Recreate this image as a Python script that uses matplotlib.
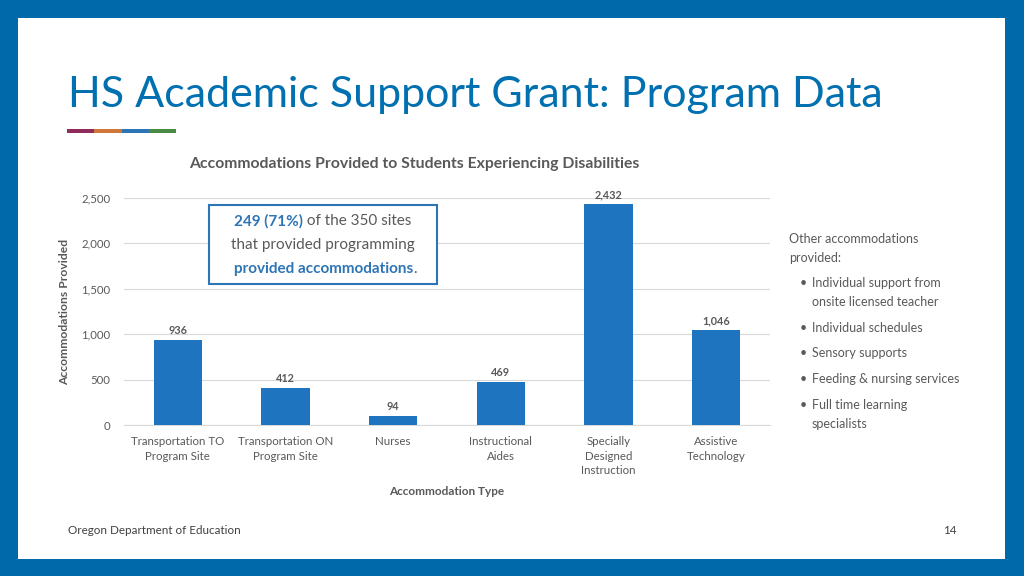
import matplotlib.pyplot as plt
from matplotlib.patches import Rectangle

categories = ['Transportation TO\nProgram Site', 'Transportation ON\nProgram Site', 'Nurses',
              'Instructional\nAides', 'Specially\nDesigned\nInstruction', 'Assistive\nTechnology']
values = [936, 412, 94, 469, 2432, 1046]
yticks = [0, 500, 1000, 1500, 2000, 2500]
other_items = ['Individual support from\nonsite licensed teacher', 'Individual schedules',
               'Sensory supports', 'Feeding & nursing services', 'Full time learning\nspecialists']

plt.rcParams['font.family'] = ['Lato', 'DejaVu Sans']

blue = '#0069AA'
gray = '#595959'

fig = plt.figure(figsize=(10.24, 5.76), dpi=100)
fig.patch.set_facecolor(blue)

# white slide panel
fig.patches.append(Rectangle((18/1024, 1-559/576), (1005-18)/1024, (559-18)/576,
                             transform=fig.transFigure, facecolor='white', edgecolor='none', zorder=-1))

# title + coloured rule
fig.text(68/1024, 1-95/576, 'HS Academic Support Grant: Program Data', color='#0070B0',
         fontsize=31, va='center', ha='left')
for i, c in enumerate(['#8E2A5E', '#D0763A', '#2E75B6', '#4A8A45']):
    fig.patches.append(Rectangle(((67 + i*27.25)/1024, 1-132.5/576), 27.25/1024, 3/576,
                                 transform=fig.transFigure, facecolor=c, edgecolor='none'))

ax = fig.add_axes([124/1024, 1-425/576, (770-124)/1024, (425-198)/576])
ax.set_facecolor('none')
x = range(len(values))
ax.bar(x, values, width=0.45, color='#1F74BF', zorder=3)
for xi, v in zip(x, values):
    ax.text(xi, v + 45, f'{v:,}', ha='center', va='bottom', fontsize=7.8, fontweight='bold',
            color=gray, clip_on=False)

ax.set_xlim(-0.5, 5.5)
ax.set_ylim(0, 2500)
ax.set_yticks(yticks)
ax.set_yticklabels([f'{t:,}' for t in yticks], fontsize=8.2, color=gray)
ax.set_xticks(list(x))
ax.set_xticklabels(categories, fontsize=8.3, color=gray, linespacing=1.4)
ax.tick_params(axis='x', length=0, pad=8)
ax.tick_params(axis='y', length=0, pad=10)
ax.grid(axis='y', color='#D9D9D9', linewidth=0.8, zorder=0)
for s in ['top', 'right', 'left']:
    ax.spines[s].set_visible(False)
ax.spines['bottom'].set_color('#D9D9D9')
ax.set_xlabel('Accommodation Type', fontsize=8.5, fontweight='bold', color=gray, labelpad=7)
ax.set_ylabel('Accommodations Provided', fontsize=8.7, fontweight='bold', color=gray, labelpad=8)

fig.text(414/1024, 1-164/576, 'Accommodations Provided to Students Experiencing Disabilities',
         ha='center', va='center', fontsize=11.3, fontweight='bold', color=gray)

# callout box
fig.patches.append(Rectangle((209/1024, 1-284/576), (437-209)/1024, (284-205)/576,
                             transform=fig.transFigure, facecolor='white', edgecolor='#2E75B6',
                             linewidth=1.5, zorder=5))
fig.text(303/1024, 1-221/576, '249 (71%)', ha='right', va='center', fontsize=11,
         fontweight='bold', color='#2E75B6', zorder=6)
fig.text(303/1024, 1-221/576, ' of the 350 sites', ha='left', va='center', fontsize=11,
         color=gray, zorder=6)
fig.text(323/1024, 1-245/576, 'that provided programming', ha='center', va='center', fontsize=11,
         color=gray, zorder=6)
fig.text(413/1024, 1-269/576, 'provided accommodations', ha='right', va='center', fontsize=11,
         fontweight='bold', color='#2E75B6', zorder=6)
fig.text(413/1024, 1-269/576, '.', ha='left', va='center', fontsize=11, color=gray, zorder=6)

# side list
fig.text(789/1024, 1-239/576, 'Other accommodations', ha='left', va='center', fontsize=9, color=gray)
fig.text(789/1024, 1-258/576, 'provided:', ha='left', va='center', fontsize=9, color=gray)
ypos = [283, 328, 353, 379, 405]
for yp, item in zip(ypos, other_items):
    fig.text(800/1024, 1-yp/576, '•', ha='left', va='center', fontsize=9, color=gray)
    for j, ln in enumerate(item.split('\n')):
        fig.text(812/1024, 1-(yp + j*19.5)/576, ln, ha='left', va='center', fontsize=9, color=gray)

# footer
fig.text(68/1024, 1-531/576, 'Oregon Department of Education', ha='left', va='center',
         fontsize=8.4, color='#404040')
fig.text(957/1024, 1-531/576, '14', ha='right', va='center', fontsize=8.4, color='#404040')

fig.savefig('out.png', dpi=100, facecolor=fig.get_facecolor())
